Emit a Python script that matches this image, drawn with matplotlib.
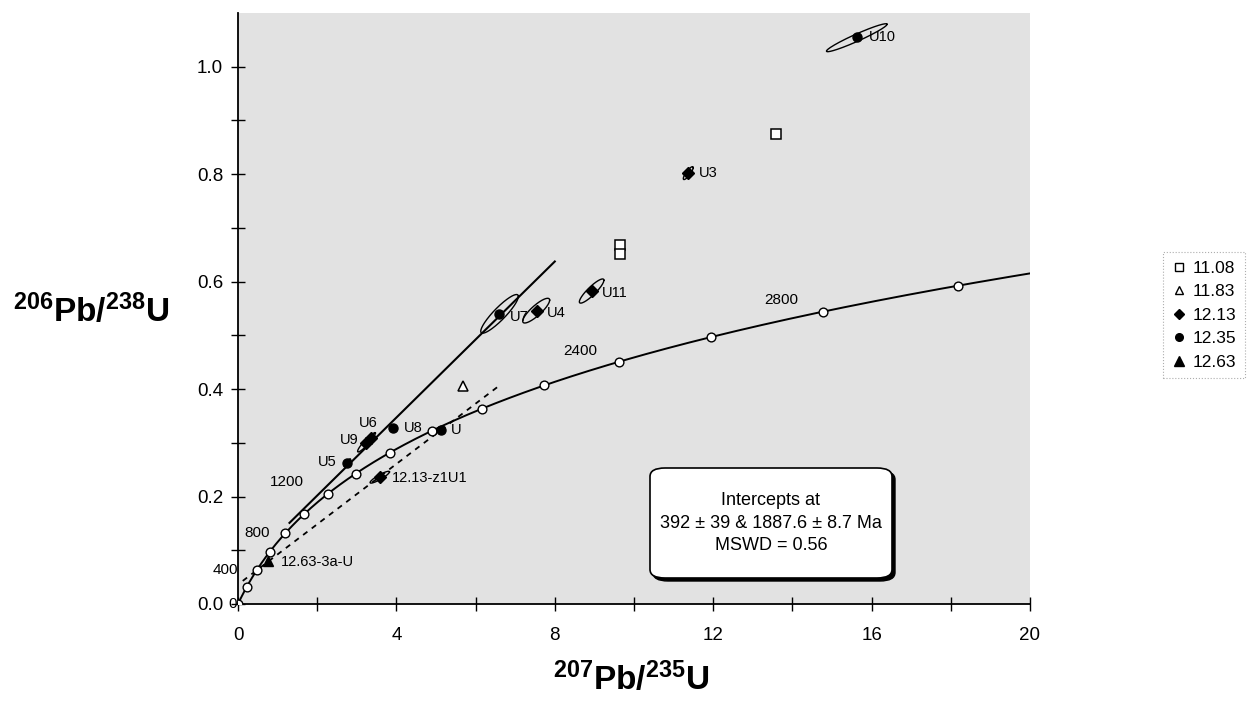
import numpy as np
import matplotlib
matplotlib.use("Agg")
import matplotlib.pyplot as plt
from matplotlib.lines import Line2D
from matplotlib.patches import FancyBboxPatch

plt.rcParams["font.family"] = ["Liberation Sans", "DejaVu Sans"]
plt.rcParams["mathtext.fontset"] = "custom"
plt.rcParams["mathtext.rm"] = "Liberation Sans"
plt.rcParams["mathtext.bf"] = "Liberation Sans:bold"

# ---- decay constants (1/yr) for the concordia curve ----
LAMBDA_238 = 1.55125e-10
LAMBDA_235 = 9.8485e-10

concordia_marker_ages = [0, 200, 400, 600, 800, 1000, 1200, 1400, 1600,
                         1800, 2000, 2200, 2400, 2600, 2800, 3000]
concordia_label_ages = [0, 400, 800, 1200, 2400, 2800]
concordia_label_offsets = [(-1, 0), (-19, 0), (-16, 0), (-24, 12), (-22, 11), (-24, 12)]

# discordia intercepts (Ma)
intercept_ages = [392.0, 1887.6]

# second reference line (207/235, 206/238 end points)
ref_line_x = [1.30, 8.00]
ref_line_y = [0.151, 0.6375]

# ---- analyses by sample ----
s1108_x = [9.65, 9.65, 13.58]
s1108_y = [0.669, 0.652, 0.875]

s1183_x = [5.69]
s1183_y = [0.405]

s1213_names = ["U3", "U11", "U4", "U9", "U6", "12.13-z1U1"]
s1213_x = [11.37, 8.93, 7.54, 3.22, 3.35, 3.59]
s1213_y = [0.802, 0.583, 0.546, 0.299, 0.309, 0.236]

s1235_names = ["U10", "U7", "U8", "U5", "U"]
s1235_x = [15.64, 6.60, 3.91, 2.76, 5.12]
s1235_y = [1.0545, 0.540, 0.328, 0.263, 0.323]

s1263_names = ["12.63-3a-U"]
s1263_x = [0.77]
s1263_y = [0.080]

# error ellipses: (x, y, sx, sy, rho)
ellipse_names = ["U10", "U3", "U11", "U4", "U7", "U6", "U9", "U5", "12.13-z1U1"]
ellipse_x = [15.625, 11.37, 8.93, 7.53, 6.605, 3.35, 3.22, 2.76, 3.58]
ellipse_y = [1.054, 0.802, 0.5825, 0.546, 0.540, 0.309, 0.299, 0.263, 0.236]
ellipse_sx = [0.765, 0.125, 0.31, 0.34, 0.475, 0.12, 0.20, 0.08, 0.245]
ellipse_sy = [0.026, 0.012, 0.0225, 0.023, 0.036, 0.010, 0.016, 0.007, 0.011]
ellipse_rho = [0.96, 0.85, 0.89, 0.85, 0.90, 0.90, 0.92, 0.85, 0.90]

# point label offsets in pixels (dx, dy, ha)
point_label_offsets = {
    "U10": (12, 0, "left"), "U3": (11, 0, "left"), "U11": (10, -2, "left"),
    "U4": (10, -2, "left"), "U7": (11, -3, "left"), "U8": (11, 0, "left"),
    "U": (10, 0, "left"), "U5": (-11, 1, "right"), "U9": (-7, 3, "right"),
    "U6": (-2, 15, "center"), "12.13-z1U1": (12, -1, "left"),
    "12.63-3a-U": (12, -1, "left"),
}


def concordia(t_ma):
    t = np.asarray(t_ma, dtype=float) * 1e6
    return np.exp(LAMBDA_235 * t) - 1.0, np.exp(LAMBDA_238 * t) - 1.0


W, H = 1247, 711
fig = plt.figure(figsize=(W / 100, H / 100), dpi=100)
ax = fig.add_axes([238 / W, 1 - 604 / H, (1030 - 238) / W, (604 - 13) / H])
ax.set_facecolor("#e2e2e2")
ax.set_xlim(0, 20)
ax.set_ylim(0, 1.1)

for s in ("top", "right"):
    ax.spines[s].set_visible(False)
for s in ("left", "bottom"):
    ax.spines[s].set_linewidth(1.3)

xt = np.arange(0, 21, 2)
ax.set_xticks(xt)
ax.set_xticklabels([f"{v:d}" if v % 4 == 0 else "" for v in xt])
yt = np.round(np.arange(0, 1.01, 0.1), 1)
ax.set_yticks(yt)
ax.set_yticklabels([f"{v:.1f}" if round(v * 10) % 2 == 0 else "" for v in yt])
ax.tick_params(axis="both", direction="inout", length=9.5, width=1.0,
               labelsize=13.5)
ax.tick_params(axis="x", pad=12.0)
ax.tick_params(axis="y", pad=6.0)

# concordia curve
t_end = np.log(21.0) / LAMBDA_235 / 1e6
cx, cy = concordia(np.linspace(0, t_end, 400))
ax.plot(cx, cy, color="black", lw=1.4, zorder=3)
mx, my = concordia(concordia_marker_ages)
ax.plot(mx, my, "o", ms=6.3, mfc="white", mec="black", mew=1.0, zorder=4)
lx, ly = concordia(concordia_label_ages)
for age, x, y, (dx, dy) in zip(concordia_label_ages, lx, ly, concordia_label_offsets):
    ax.annotate(f"{age}", (x, y), xytext=(dx, dy), textcoords="offset pixels",
                ha="right", va="center", fontsize=11, zorder=5)

# discordia through the two intercepts
ix, iy = concordia(intercept_ages)
slope = (iy[1] - iy[0]) / (ix[1] - ix[0])
dxs = np.array([0.12, 6.6])
ax.plot(dxs, iy[0] + slope * (dxs - ix[0]), color="black", lw=1.3,
        linestyle=(0, (3, 3)), zorder=3)

# reference line
ax.plot(ref_line_x, ref_line_y, color="black", lw=1.5, zorder=3)

# error ellipses
tt = np.linspace(0, 2 * np.pi, 200)
for x0, y0, sx, sy, r in zip(ellipse_x, ellipse_y, ellipse_sx, ellipse_sy, ellipse_rho):
    ex = x0 + sx * np.cos(tt)
    ey = y0 + sy * (r * np.cos(tt) + np.sqrt(1 - r * r) * np.sin(tt))
    ax.plot(ex, ey, color="black", lw=1.0, zorder=5)

# data points
ax.plot(s1108_x, s1108_y, "s", ms=7, mfc="white", mec="black", mew=1.1, zorder=6)
ax.plot(s1183_x, s1183_y, "^", ms=7, mfc="white", mec="black", mew=1.1, zorder=6)
ax.plot(s1213_x, s1213_y, "D", ms=5.8, color="black", zorder=6)
ax.plot(s1235_x, s1235_y, "o", ms=6.5, color="black", zorder=6)
ax.plot(s1263_x, s1263_y, "^", ms=7.5, color="black", zorder=6)

for names, xs, ys in ((s1213_names, s1213_x, s1213_y),
                      (s1235_names, s1235_x, s1235_y),
                      (s1263_names, s1263_x, s1263_y)):
    for n, x, y in zip(names, xs, ys):
        dx, dy, ha = point_label_offsets[n]
        ax.annotate(n, (x, y), xytext=(dx, dy), textcoords="offset pixels",
                    ha=ha, va="center", fontsize=10.5, zorder=7)

# intercept summary box
bx0, by0, bw, bh = 650 / W, 1 - 578 / H, 242 / W, 110 / H
fig.patches.append(FancyBboxPatch((bx0 + 3 / W, by0 - 3 / H), bw, bh,
                                  boxstyle="round,pad=0,rounding_size=0.012",
                                  transform=fig.transFigure, fc="black",
                                  ec="black", lw=1, zorder=8))
fig.patches.append(FancyBboxPatch((bx0, by0), bw, bh,
                                  boxstyle="round,pad=0,rounding_size=0.012",
                                  transform=fig.transFigure, fc="white",
                                  ec="black", lw=1.2, zorder=9))
fig.text(bx0 + bw / 2, by0 + bh / 2,
         "Intercepts at\n392 \u00b1 39 & 1887.6 \u00b1 8.7 Ma\nMSWD = 0.56",
         ha="center", va="center", fontsize=13, linespacing=1.45, zorder=10)

# axis titles
fig.text(91 / W, 1 - 311 / H, r"$\mathbf{^{206}Pb/^{238}U}$",
         ha="center", va="center", fontsize=24)
fig.text(631 / W, 1 - 679 / H, r"$\mathbf{^{207}Pb/^{235}U}$",
         ha="center", va="center", fontsize=24)

# legend
handles = [
    Line2D([], [], ls="", marker="s", ms=6, mfc="white", mec="black", mew=1.0),
    Line2D([], [], ls="", marker="^", ms=6, mfc="white", mec="black", mew=1.0),
    Line2D([], [], ls="", marker="D", ms=5, color="black"),
    Line2D([], [], ls="", marker="o", ms=5.5, color="black"),
    Line2D([], [], ls="", marker="^", ms=6.5, color="black"),
]
labels = ["11.08", "11.83", "12.13", "12.35", "12.63"]
leg = fig.legend(handles, labels, loc="upper left",
                 bbox_to_anchor=(1163 / W, 1 - 252 / H), fontsize=12.5,
                 frameon=True, fancybox=False, handlelength=0.8,
                 handletextpad=0.4, labelspacing=0.48, borderpad=0.5,
                 borderaxespad=0)
fr = leg.get_frame()
fr.set_edgecolor("#999999")
fr.set_linestyle(":")
fr.set_linewidth(0.8)

fig.savefig("out.png", dpi=100)
